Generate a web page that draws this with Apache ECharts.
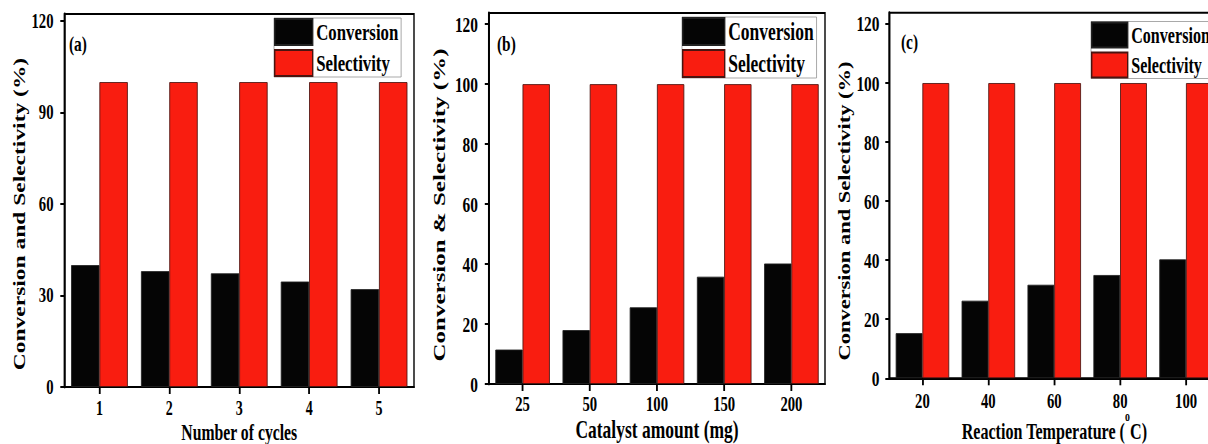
<!DOCTYPE html>
<html>
<head>
<meta charset="utf-8">
<script src="https://cdn.jsdelivr.net/npm/echarts@6/dist/echarts.min.js"></script>
<style>
html,body{margin:0;padding:0;background:#fff;overflow:hidden;width:1208px;height:444px}
#wrap{width:1208px;height:444px;overflow:hidden;position:relative;background:#fff}
#chart{position:absolute;left:0;top:0;height:444px;transform-origin:0 0}
</style>
</head>
<body>
<div id="wrap"><div id="chart"></div></div>
<script>
// ---------- data ----------
const cycleCategories = ['1', '2', '3', '4', '5'];
const cycleConversion = [40, 38, 37.3, 34.6, 32.1];
const cycleSelectivity = [100, 100, 100, 100, 100];

const amountCategories = ['25', '50', '100', '150', '200'];
const amountConversion = [11.5, 18, 25.6, 35.8, 40.2];
const amountSelectivity = [100, 100, 100, 100, 100];

const tempCategories = ['20', '40', '60', '80', '100'];
const tempConversion = [15.3, 26.3, 31.7, 35, 40.3];
const tempSelectivity = [100, 100, 100, 100, 100];

const seriesNames = ['Conversion', 'Selectivity'];
const panelLabels = ['(a)', '(b)', '(c)'];
const yTitles = ['Conversion and Selectivity (%)', 'Conversion & Selectivity (%)', 'Conversion and Selectivity (%)'];
const xTitles = ['Number of cycles', 'Catalyst amount (mg)', '{n|Reaction Temperature (}{s|o}{n|C)}'];

// ---------- layout (horizontally condensed figure) ----------
const K = 0.7;
const W = Math.round(1208 / K);
const el = document.getElementById('chart');
el.style.width = W + 'px';
el.style.transform = 'scaleX(' + K + ')';
const X = v => v / K;

const FONT = '"Liberation Serif", "Times New Roman", serif';
const RED = '#F91D10';
const BLACK = '#050505';

const panels = [
  { cats: cycleCategories, conv: cycleConversion, sel: cycleSelectivity,
    left: 64.5, right: 414, top: 14, bottom: 387, max: 122.3, interval: 30,
    yFont: 21, xFont: 20, xMargin: 12, yMargin: 11, yNameFont: 23.5, yNameGap: 37, yNamePad: [0, 27, 0, 0],
    xNameFont: 22.5, xNameGap: 33.5, legend: { left: 274, top: 18, w: 38, h: 26, font: 24 }, label: { left: 69, top: 32 } },
  { cats: amountCategories, conv: amountConversion, sel: amountSelectivity,
    left: 489, right: 825, top: 13, bottom: 384, max: 123.7, interval: 20,
    yFont: 22, xFont: 21, xMargin: 9.5, yMargin: 11, yNameFont: 25, yNameGap: 41, yNamePad: [0, 13, 0, 0],
    xNameFont: 25, xNameGap: 33.5, legend: { left: 682, top: 17, w: 42, h: 27, font: 25 }, label: { left: 497, top: 32 } },
  { cats: tempCategories, conv: tempConversion, sel: tempSelectivity,
    left: 889.5, right: 1219, top: 12.7, bottom: 378.3, max: 123.8, interval: 20,
    yFont: 22, xFont: 21, xMargin: 12.5, yMargin: 10, yNameFont: 22.5, yNameGap: 36.5, yNamePad: [0, 31, 0, 0],
    xNameFont: 23, xNameGap: 31, legend: { left: 1091, top: 21.5, w: 36, h: 25, font: 23 }, label: { left: 901, top: 30 } }
];

const grid = [], xAxis = [], yAxis = [], series = [], legend = [], graphic = [];

panels.forEach((p, i) => {
  grid.push({
    left: X(p.left), width: X(p.right - p.left), top: p.top, height: p.bottom - p.top,
    show: true, borderColor: '#000', borderWidth: 2, backgroundColor: 'transparent',
    containLabel: false, outerBoundsMode: 'none'
  });
  const xName = {
    fontFamily: FONT, fontWeight: 'bold', fontSize: p.xNameFont, color: '#000'
  };
  if (i === 2) {
    xName.rich = {
      n: { fontFamily: FONT, fontWeight: 'bold', fontSize: p.xNameFont, color: '#000', lineHeight: 44, verticalAlign: 'middle' },
      s: { fontFamily: FONT, fontWeight: 'bold', fontSize: 14, color: '#000', verticalAlign: 'top', lineHeight: 14 }
    };
  }
  xAxis.push({
    type: 'category', gridIndex: i, data: p.cats, boundaryGap: true,
    axisLine: { show: true, lineStyle: { color: '#000', width: 2 } },
    axisTick: { show: true, alignWithLabel: true, length: 7, lineStyle: { color: '#000', width: 2.6 } },
    axisLabel: { color: '#000', fontFamily: FONT, fontWeight: 'bold', fontSize: p.xFont, margin: p.xMargin },
    splitLine: { show: false },
    name: xTitles[i], nameLocation: 'middle', nameGap: p.xNameGap, nameMoveOverlap: false,
    nameTextStyle: xName
  });
  yAxis.push({
    type: 'value', gridIndex: i, min: 0, max: p.max, interval: p.interval,
    axisLine: { show: true, lineStyle: { color: '#000', width: 2.8 } },
    axisTick: { show: true, length: 6, lineStyle: { color: '#000', width: 2 } },
    axisLabel: { color: '#000', fontFamily: FONT, fontWeight: 'bold', fontSize: p.yFont, margin: X(p.yMargin), showMaxLabel: false },
    splitLine: { show: false },
    name: yTitles[i], nameLocation: 'middle', nameRotate: 90, nameGap: X(p.yNameGap), nameMoveOverlap: false,
    nameTextStyle: { fontFamily: FONT, fontWeight: 'bold', fontSize: p.yNameFont, color: '#000', padding: p.yNamePad }
  });
  series.push({
    type: 'bar', name: seriesNames[0], xAxisIndex: i, yAxisIndex: i, data: p.conv,
    barWidth: '40.5%', barGap: '0%',
    itemStyle: { color: BLACK, borderColor: '#222', borderWidth: 1 },
    emphasis: { disabled: true }
  });
  series.push({
    type: 'bar', name: seriesNames[1], xAxisIndex: i, yAxisIndex: i, data: p.sel,
    barWidth: '40.5%', barGap: '0%',
    itemStyle: { color: RED, borderColor: '#4a1410', borderWidth: 1 },
    emphasis: { disabled: true }
  });
  legend.push({
    orient: 'vertical', left: X(p.legend.left), top: p.legend.top,
    itemWidth: X(p.legend.w), itemHeight: p.legend.h, itemGap: 3,
    icon: 'rect', selectedMode: false,
    padding: [0, 4, 0, 0], borderColor: '#9a9a9a', borderWidth: 1, backgroundColor: '#fff',
    data: seriesNames,
    textStyle: { fontFamily: FONT, fontWeight: 'bold', fontSize: p.legend.font, color: '#000' }
  });
  graphic.push({
    type: 'text', left: X(p.label.left), top: p.label.top, silent: true,
    style: { text: panelLabels[i], font: 'bold 22px "Liberation Serif", serif', fill: '#000' }
  });
});

const chart = echarts.init(el, null, { renderer: 'svg', width: W, height: 444 });
chart.setOption({
  animation: false,
  backgroundColor: '#fff',
  grid, xAxis, yAxis, series, legend, graphic
});
</script>
</body>
</html>
